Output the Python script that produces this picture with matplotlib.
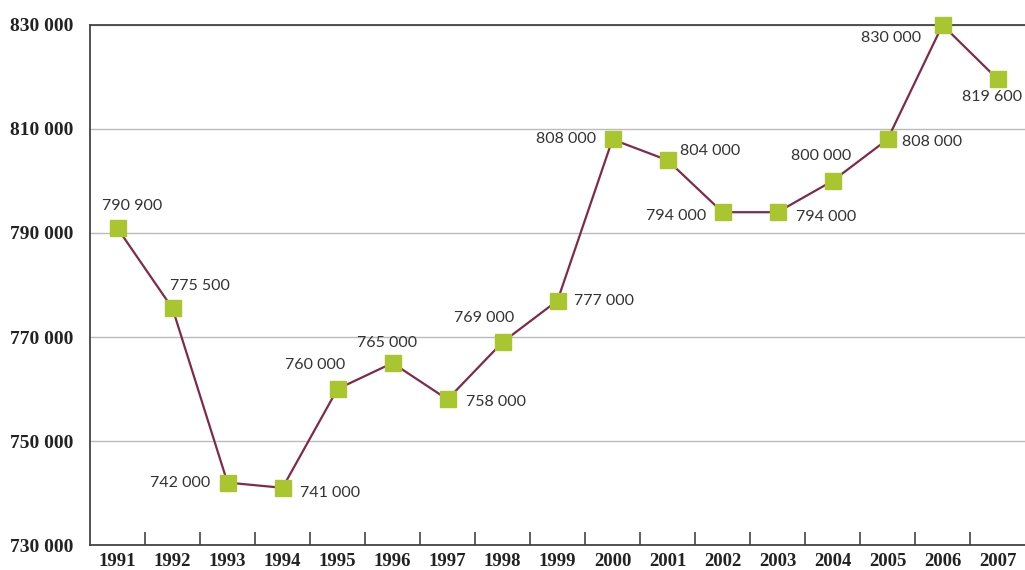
"""Annual totals 1991-2007, line chart with square markers and value labels"""
import matplotlib.pyplot as plt
from matplotlib.ticker import FixedLocator, FuncFormatter

LINE_COLOR = '#7E2B4B'
MARKER_COLOR = '#A9C52F'
TEXT_COLOR = '#333333'
AXIS_COLOR = '#444444'
GRID_COLOR = '#BBBBBB'

years = ['1991', '1992', '1993', '1994', '1995', '1996', '1997', '1998', '1999',
         '2000', '2001', '2002', '2003', '2004', '2005', '2006', '2007']
values = [790900, 775500, 742000, 741000, 760000, 765000, 758000, 769000, 777000,
          808000, 804000, 794000, 794000, 800000, 808000, 830000, 819600]
y_ticks = [730000, 750000, 770000, 790000, 810000, 830000]

# label placement per point: (dx px, dy px, horizontal alignment)
label_pos = [(15, 22, 'center'), (-2, 22, 'left'), (-17, 0, 'right'), (17, -5, 'left'),
             (-22, 24, 'center'), (-5, 20, 'center'), (19, -3, 'left'), (-18, 24, 'center'),
             (16, 0, 'left'), (-16, 0, 'right'), (12, 9, 'left'), (-16, -4, 'right'),
             (18, -5, 'left'), (-11, 25, 'center'), (15, -3, 'left'), (-21, -13, 'right'),
             (-5, -18, 'center')]


def fmt(v):
    return f'{int(v):,}'.replace(',', ' ')


fig = plt.figure(figsize=(10.25, 5.7), dpi=100)
ax = fig.add_axes([90 / 1025, 25 / 570, 935 / 1025, 520 / 570])

x = list(range(len(years)))
ax.plot(x, values, color=LINE_COLOR, linewidth=1.6, marker='s', markersize=11.5,
        markerfacecolor=MARKER_COLOR, markeredgecolor=MARKER_COLOR, zorder=3,
        clip_on=False)

for xi, v, (dx, dy, ha) in zip(x, values, label_pos):
    ax.annotate(fmt(v), (xi, v), xytext=(dx, dy), textcoords='offset pixels',
                ha=ha, va='center', fontsize=11.5, family='Lato', color=TEXT_COLOR,
                annotation_clip=False, zorder=4)

ax.set_xlim(-0.5, len(years) - 0.5)
ax.set_ylim(y_ticks[0], y_ticks[-1])

ax.set_xticks(x)
ax.set_xticklabels(years)
ax.xaxis.set_minor_locator(FixedLocator([i + 0.5 for i in x[:-1]]))
ax.tick_params(axis='x', which='major', length=0, pad=6)
ax.tick_params(axis='x', which='minor', direction='in', length=9.5, width=1.2,
               color=AXIS_COLOR)

ax.set_yticks(y_ticks)
ax.yaxis.set_major_formatter(FuncFormatter(lambda v, p: fmt(v)))
ax.tick_params(axis='y', length=0, pad=12)

for lbl in ax.get_xticklabels() + ax.get_yticklabels():
    lbl.set_family('Liberation Serif')
    lbl.set_fontweight('bold')
    lbl.set_fontsize(14)
    lbl.set_color('#222222')
for lbl in ax.get_xticklabels():
    lbl.set_fontsize(13.5)

ax.grid(axis='y', color=GRID_COLOR, linewidth=1.0, zorder=0)
ax.set_axisbelow(True)

ax.spines['right'].set_visible(False)
for side in ('left', 'bottom', 'top'):
    ax.spines[side].set_color(AXIS_COLOR)
    ax.spines[side].set_linewidth(1.3)

fig.savefig('out.png', dpi=100)
plt.close(fig)
